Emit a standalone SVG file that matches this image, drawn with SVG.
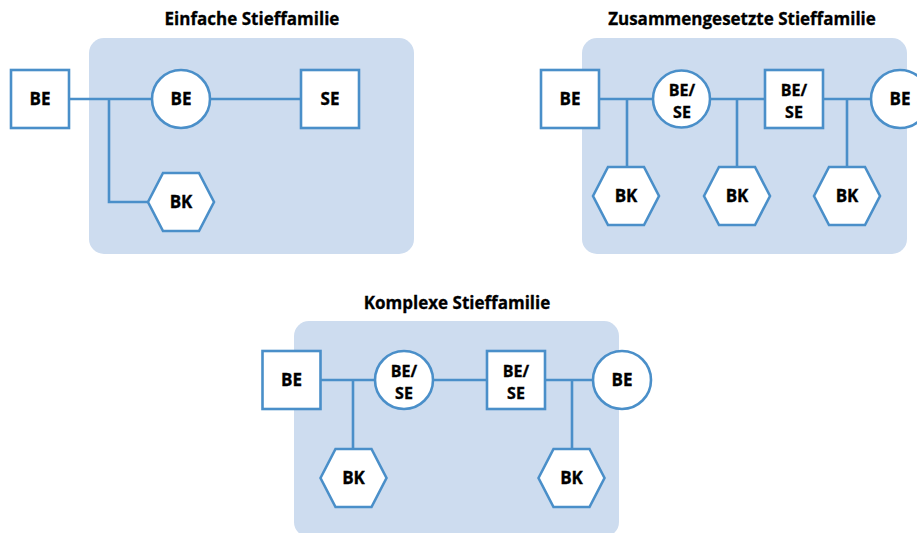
<svg xmlns="http://www.w3.org/2000/svg" width="917" height="533" viewBox="0 0 917 533">
  <style>
    .panel { fill: #cddcef; }
    .node { fill: #ffffff; stroke: #4a8fc9; stroke-width: 2.6; }
    .link { fill: none; stroke: #4a8fc9; stroke-width: 2.6; }
    .title { font-family: "Open Sans", "Liberation Sans", sans-serif; font-weight: bold; font-size: 17px; fill: #000; stroke: #000; stroke-width: 0.3; text-anchor: middle; }
    .lbl { font-family: "Open Sans", "Liberation Sans", sans-serif; font-weight: bold; font-size: 17px; fill: #000; stroke: #000; stroke-width: 0.35; text-anchor: middle; }
    .lbl2 { font-size: 16px; }
  </style>
  <defs>
    <rect id="sq" x="-29" y="-29" width="58" height="58"/>
    <polygon id="hex" points="-33,0 -18,-29 18,-29 33,0 18,29 -18,29"/>
  </defs>

  <!-- Einfache Stieffamilie -->
  <text class="title" x="252" y="25">Einfache Stieffamilie</text>
  <rect class="panel" x="89" y="38" width="325" height="216" rx="15"/>
  <g id="links-1">
    <path class="link" d="M69,99 H152 M210,99 H301 M109,99 V202 H148"/>
  </g>
  <g id="n1-be1"><use href="#sq" class="node" x="40" y="99"/><text class="lbl" x="40" y="105">BE</text></g>
  <g id="n1-be2"><circle class="node" cx="181" cy="99" r="29"/><text class="lbl" x="181" y="105">BE</text></g>
  <g id="n1-se"><use href="#sq" class="node" x="330" y="99"/><text class="lbl" x="330" y="105">SE</text></g>
  <g id="n1-bk"><use href="#hex" class="node" x="181" y="202"/><text class="lbl" x="181" y="208">BK</text></g>

  <!-- Zusammengesetzte Stieffamilie -->
  <text class="title" x="742" y="25">Zusammengesetzte Stieffamilie</text>
  <rect class="panel" x="582" y="38" width="325" height="216" rx="15"/>
  <g id="links-2">
    <path class="link" d="M599,99 H653 M710,99 H765 M823,99 H871 M627,99 V167 M737,99 V167 M847,99 V167"/>
  </g>
  <g id="n2-be1"><use href="#sq" class="node" x="570" y="99"/><text class="lbl" x="570" y="105">BE</text></g>
  <g id="n2-bese1"><circle class="node" cx="681.5" cy="99" r="28.5"/><text class="lbl lbl2"><tspan x="682" y="96">BE/</tspan><tspan x="682" y="118">SE</tspan></text></g>
  <g id="n2-bese2"><use href="#sq" class="node" x="794" y="99"/><text class="lbl lbl2"><tspan x="794" y="96">BE/</tspan><tspan x="794" y="118">SE</tspan></text></g>
  <g id="n2-be2"><circle class="node" cx="900" cy="99" r="29"/><text class="lbl" x="900" y="105">BE</text></g>
  <g id="n2-bk1"><use href="#hex" class="node" x="626" y="196"/><text class="lbl" x="626" y="202">BK</text></g>
  <g id="n2-bk2"><use href="#hex" class="node" x="737" y="196"/><text class="lbl" x="737" y="202">BK</text></g>
  <g id="n2-bk3"><use href="#hex" class="node" x="847" y="196"/><text class="lbl" x="847" y="202">BK</text></g>

  <!-- Komplexe Stieffamilie -->
  <text class="title" x="457" y="309">Komplexe Stieffamilie</text>
  <rect class="panel" x="294" y="321" width="325" height="216" rx="15"/>
  <g id="links-3">
    <path class="link" d="M320,380 H375 M433,380 H487 M545,380 H593 M353,380 V449 M572,380 V449"/>
  </g>
  <g id="n3-be1"><use href="#sq" class="node" x="291.5" y="380"/><text class="lbl" x="291.5" y="386">BE</text></g>
  <g id="n3-bese1"><circle class="node" cx="404" cy="380" r="29"/><text class="lbl lbl2"><tspan x="404" y="377">BE/</tspan><tspan x="404" y="399">SE</tspan></text></g>
  <g id="n3-bese2"><use href="#sq" class="node" x="516" y="380"/><text class="lbl lbl2"><tspan x="516" y="377">BE/</tspan><tspan x="516" y="399">SE</tspan></text></g>
  <g id="n3-be2"><circle class="node" cx="622" cy="380" r="29"/><text class="lbl" x="622" y="386">BE</text></g>
  <g id="n3-bk1"><use href="#hex" class="node" x="353.5" y="478"/><text class="lbl" x="353.5" y="484">BK</text></g>
  <g id="n3-bk2"><use href="#hex" class="node" x="571.5" y="478"/><text class="lbl" x="571.5" y="484">BK</text></g>
</svg>
